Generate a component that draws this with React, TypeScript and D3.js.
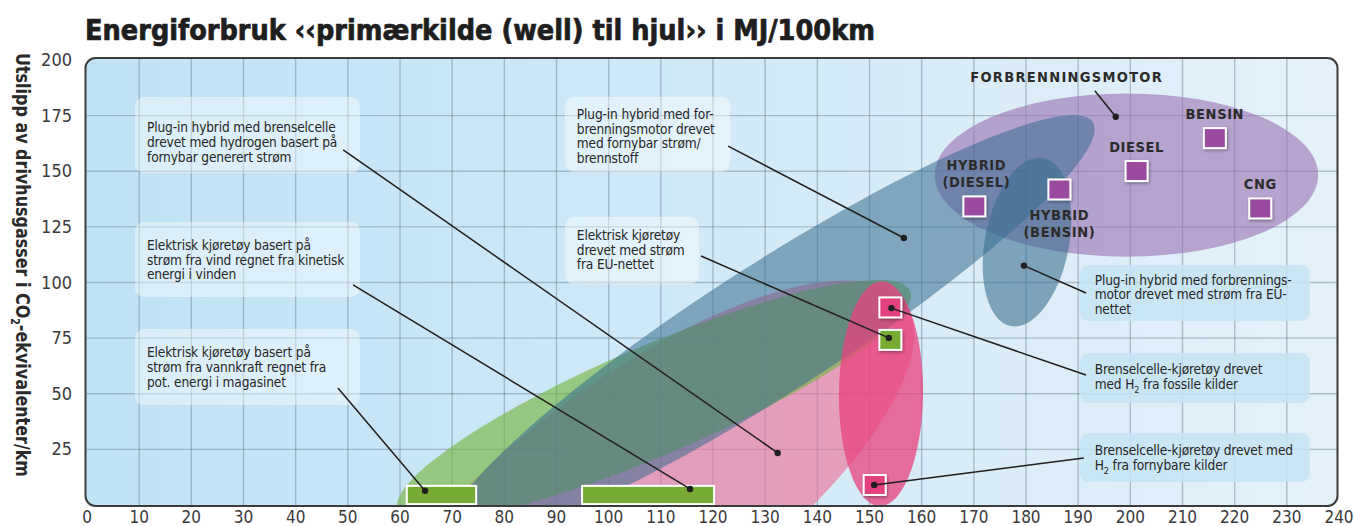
import React from "react";
import * as d3 from "d3";

const W = 1354;
const H = 526;

// axes
const xTickValues = [0, 10, 20, 30, 40, 50, 60, 70, 80, 90, 100, 110, 120, 130, 140, 150, 160, 170, 180, 190, 200, 210, 220, 230, 240];
const yTickValues = [25, 50, 75, 100, 125, 150, 175, 200];
const xGridValues = [10, 20, 30, 40, 50, 60, 70, 80, 90, 100, 110, 120, 130, 140, 150, 160, 170, 180, 190, 200, 210, 220, 230];
const yGridValues = [25, 50, 75, 100, 125, 150, 175];

// regions (ellipses): ends of the long axis in (MJ/100km, g/km), half width in g/km
const regionNames = ["forbrenningsmotor", "brenselcelle-plugin", "el-vind", "plugin-fornybar", "plugin-eu", "brenselcelle"];
const regionStart = [[162.5, 148.3], [54.2, -85.4], [59.6, -2.2], [69.6, -13.5], [177.1, 80.4], [152.0, -0.5]];
const regionEnd = [[236.0, 148.3], [156.8, 90.8], [157.8, 96.2], [192.8, 172.1], [183.3, 156.0], [152.4, 100.6]];
const regionHalfWidth = [36.7, 53.9, 24.5, 29.0, 18.9, 18.9];
const regionColors = ["#9a70b2", "#ef6b95", "#7ab648", "#396c8e", "#396c8e", "#e8417f"];
const regionOpacity = [0.6, 0.6, 0.66, 0.55, 0.58, 0.75];

// combustion engines
const engineNames = [["BENSIN"], ["DIESEL"], ["CNG"], ["HYBRID", "(DIESEL)"], ["HYBRID", "(BENSIN)"]];
const engineEnergy = [216.2, 201.2, 224.9, 170.1, 186.4];
const engineEmission = [164.9, 150.1, 133.3, 134.2, 141.8];

// single vehicles
const vehicleNames = ["H2 fossil", "El EU-nett", "H2 fornybar"];
const vehicleEnergy = [154, 154, 151];
const vehicleEmission = [88.8, 74.2, 9];
const vehicleColors = ["#e23f7f", "#78ab33", "#e23f7f"];

// electric ranges
const rangeNames = ["vannkraft", "vind"];
const rangeStart = [61.3, 94.9];
const rangeEnd = [74.6, 120.2];
const rangeTop = [8.6, 8.6];

// notes
const noteLines = [
  ["Plug-in hybrid med brenselcelle", "drevet med hydrogen basert på", "fornybar generert strøm"],
  ["Plug-in hybrid med for-", "brenningsmotor drevet", "med fornybar strøm/", "brennstoff"],
  ["Elektrisk kjøretøy basert på", "strøm fra vind regnet fra kinetisk", "energi i vinden"],
  ["Elektrisk kjøretøy", "drevet med strøm", "fra EU-nettet"],
  ["Elektrisk kjøretøy basert på", "strøm fra vannkraft regnet fra", "pot. energi i magasinet"],
  ["Plug-in hybrid med forbrennings-", "motor drevet med strøm fra EU-", "nettet"],
  ["Brenselcelle-kjøretøy drevet", "med H|2| fra fossile kilder"],
  ["Brenselcelle-kjøretøy drevet med", "H|2| fra fornybare kilder"],
];
const noteBox = [
  [9.2, 183.4, 52.3, 149.2],
  [91.6, 183.4, 123.3, 149.7],
  [9.2, 127.2, 52.3, 93.5],
  [91.6, 129.4, 117.3, 99.3],
  [9.2, 79.1, 52.3, 44.9],
  [190.3, 107.9, 234.4, 82.7],
  [190.3, 68.3, 234.4, 45.8],
  [190.3, 32.4, 234.4, 10.3],
];
const noteFirstLine = [167.5, 173.5, 114.6, 119.0, 66.3, 99.1, 58.9, 22.5];
const noteFrom = [[49.1, 159.6], [122.9, 161.3], [51.0, 98.9], [117.7, 111.9], [48.1, 52.6], [191.5, 95.3], [191.5, 58.4], [191.1, 21.1]];
const noteTo = [[132.4, 23.4], [156.6, 120.0], [115.6, 7.2], [153.7, 75.1], [64.8, 6.4], [179.6, 107.6], [154.2, 88.5], [150.9, 9.0]];
const noteRight = [false, false, false, false, false, true, true, true];

const engineTitle = "FORBRENNINGSMOTOR";
const engineTitlePos = [187.8, 190.2];
const engineTitleFrom = [193.2, 186.2];
const engineTitleTo = [197.2, 174.5];

const FONT = "'Liberation Sans Narrow', 'DejaVu Sans Condensed', 'Roboto Condensed', 'DejaVu Sans', sans-serif";

const x = d3.scaleLinear().domain([0, 240]).range([87, 1339]);
const y = d3.scaleLinear().domain([0, 200]).range([505, 60]);
const yUnit = y(0) - y(1);

function NoteText({ line, tx, ty }: { line: string; tx: number; ty: number }) {
  const parts = line.split("|");
  return (
    <text x={tx} y={ty} fontFamily={FONT} fontSize={13.6} letterSpacing={-0.15} fill="#262626">
      {parts.map((p, i) =>
        i % 2 === 1 ? (
          <tspan key={i} fontSize={9} dy={4}>{p}</tspan>
        ) : (
          <tspan key={i} dy={i > 0 ? -4 : 0}>{p}</tspan>
        )
      )}
    </text>
  );
}

export default function App() {
  const x0 = x(0), x1 = x(240), y0 = y(0), y1 = y(200);
  return (
    <div style={{ position: "absolute", left: 0, top: 0 }}>
      <svg width={W} height={H} style={{ display: "block" }}>
        <defs>
          <linearGradient id="bg" x1="0" x2="1" y1="0" y2="0">
            <stop offset="0" stopColor="#c0e2f5" />
            <stop offset="0.35" stopColor="#cbe7f7" />
            <stop offset="0.75" stopColor="#dcedf8" />
            <stop offset="1" stopColor="#e4f1f9" />
          </linearGradient>
          <clipPath id="plot">
            <rect x={x0 - 1.5} y={y1 - 2} width={x1 - x0} height={y0 - y1 + 3} rx={10} />
          </clipPath>
          <filter id="sh" x="-30%" y="-30%" width="160%" height="160%">
            <feDropShadow dx="1" dy="1.5" stdDeviation="1.5" floodColor="#000" floodOpacity="0.35" />
          </filter>
        </defs>

        <text x={85} y={40} fontFamily={FONT} fontWeight={700} fontSize={29} fill="#1e1e1e"
          stroke="#1e1e1e" strokeWidth={0.7} textLength={790} lengthAdjust="spacingAndGlyphs">
          Energiforbruk ‹‹primærkilde (well) til hjul››  i MJ/100km
        </text>

        <g transform="translate(16,53) rotate(90)">
          <text x={0} y={0} fontFamily={FONT} fontWeight={700} fontSize={20} fill="#2a2a2a"
            textLength={424} lengthAdjust="spacingAndGlyphs">
            Utslipp av drivhusgasser i CO<tspan fontSize={12} dy={5}>2</tspan><tspan dy={-5}>-ekvivalenter/km</tspan>
          </text>
        </g>

        <rect x={x0 - 1.5} y={y1 - 2} width={x1 - x0} height={y0 - y1 + 3} rx={10} fill="url(#bg)" />

        <g clipPath="url(#plot)">
          {xGridValues.map((v) => (
            <line key={"gx" + v} x1={x(v)} x2={x(v)} y1={y1 - 2} y2={y0 + 2} stroke="#5d7486" strokeOpacity={0.4} strokeWidth={1.4} />
          ))}
          {yGridValues.map((v) => (
            <line key={"gy" + v} x1={x0} x2={x1} y1={y(v)} y2={y(v)} stroke="#5d7486" strokeOpacity={0.4} strokeWidth={1.4} />
          ))}

          {regionNames.map((name, i) => {
            const ax = x(regionStart[i][0]), ay = y(regionStart[i][1]);
            const bx = x(regionEnd[i][0]), by = y(regionEnd[i][1]);
            const cx = (ax + bx) / 2, cy = (ay + by) / 2;
            const a = Math.hypot(bx - ax, by - ay) / 2;
            const ang = (Math.atan2(by - ay, bx - ax) * 180) / Math.PI;
            return (
              <ellipse key={name} cx={cx} cy={cy} rx={a} ry={regionHalfWidth[i] * yUnit}
                transform={`rotate(${ang} ${cx} ${cy})`} fill={regionColors[i]} fillOpacity={regionOpacity[i]} />
            );
          })}

          {noteBox.map((b, i) => (
            <rect key={"nb" + i} x={x(b[0])} y={y(b[1])} width={x(b[2]) - x(b[0])} height={y(b[3]) - y(b[1])} rx={9}
              fill={noteRight[i] ? "#c6e4f5" : "#ffffff"} fillOpacity={noteRight[i] ? 0.85 : 0.42} />
          ))}

          {rangeNames.map((n, i) => (
            <rect key={n} x={x(rangeStart[i])} y={y(rangeTop[i])} width={x(rangeEnd[i]) - x(rangeStart[i])}
              height={y(0.4) - y(rangeTop[i])} fill="#78ab33" stroke="#fff" strokeWidth={2} />
          ))}

          {engineNames.map((n, i) => (
            <rect key={n.join(" ")} x={x(engineEnergy[i]) - 11} y={y(engineEmission[i]) - 10} width={22} height={20}
              fill="#9b4c9f" stroke="#fff" strokeWidth={2} filter="url(#sh)" />
          ))}
          {vehicleNames.map((n, i) => (
            <rect key={n} x={x(vehicleEnergy[i]) - 11} y={y(vehicleEmission[i]) - 10} width={22} height={20}
              fill={vehicleColors[i]} stroke="#fff" strokeWidth={2} filter="url(#sh)" />
          ))}

          {engineNames.map((n, i) => {
            const below = n[1] === "(BENSIN)";
            const first = below ? 30.5 : n.length > 1 ? -36 : -19.5;
            const lx = x(engineEnergy[i]) + (below ? 0 : n.length > 1 ? 2 : 0);
            return (
              <text key={"el" + i} x={lx} y={y(engineEmission[i]) + first}
                textAnchor="middle" fontFamily={FONT} fontWeight={700} fontSize={14.5} letterSpacing={0.6} fill="#2b2b2b">
                {n.map((l, j) => (
                  <tspan key={j} x={lx} dy={j === 0 ? 0 : 17}>{l}</tspan>
                ))}
              </text>
            );
          })}

          <text x={x(engineTitlePos[0])} y={y(engineTitlePos[1])} textAnchor="middle" fontFamily={FONT} fontWeight={700}
            fontSize={14.5} letterSpacing={1.3} fill="#2b2b2b">{engineTitle}</text>
          <line x1={x(engineTitleFrom[0])} y1={y(engineTitleFrom[1])} x2={x(engineTitleTo[0])} y2={y(engineTitleTo[1])}
            stroke="#1f1f1f" strokeWidth={1.5} />
          <circle cx={x(engineTitleTo[0])} cy={y(engineTitleTo[1])} r={3.2} fill="#1f1f1f" />

          {noteLines.map((lines, i) => {
            const tx = x(noteBox[i][0]) + (noteRight[i] ? 15 : 12);
            return (
              <g key={"n" + i}>
                {lines.map((l, j) => (
                  <NoteText key={j} line={l} tx={tx} ty={y(noteFirstLine[i]) + j * 14.6} />
                ))}
                <line x1={x(noteFrom[i][0])} y1={y(noteFrom[i][1])} x2={x(noteTo[i][0])} y2={y(noteTo[i][1])}
                  stroke="#1f1f1f" strokeWidth={1.5} />
                <circle cx={x(noteTo[i][0])} cy={y(noteTo[i][1])} r={3.2} fill="#1f1f1f" />
              </g>
            );
          })}
        </g>

        <rect x={x0 - 1.5} y={y1 - 2} width={x1 - x0} height={y0 - y1 + 3} rx={10} fill="none" stroke="#3c3c3c" strokeWidth={2} />

        {yTickValues.map((v) => (
          <text key={"yt" + v} x={72} y={y(v) + 6} textAnchor="end" fontFamily={FONT} fontSize={18} fill="#3a3a3a">{v}</text>
        ))}
        {xTickValues.map((v) => (
          <text key={"xt" + v} x={x(v)} y={523} textAnchor="middle" fontFamily={FONT} fontSize={17} fill="#3a3a3a">{v}</text>
        ))}
      </svg>
    </div>
  );
}
